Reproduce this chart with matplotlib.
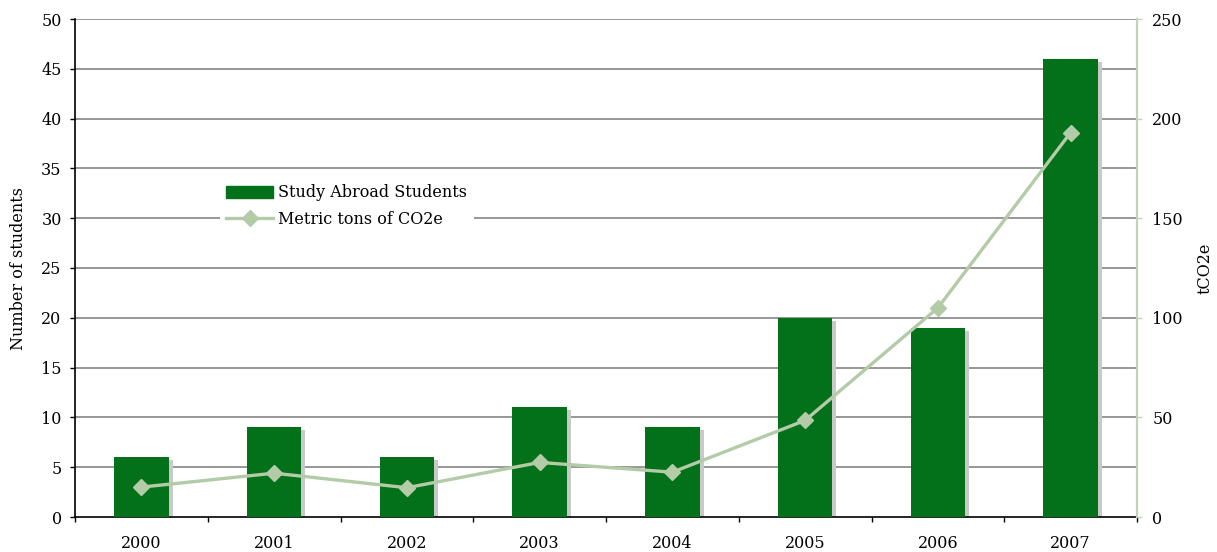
import matplotlib
matplotlib.use("Agg")
import matplotlib.pyplot as plt
import numpy as np

plt.rcParams['font.family'] = ['DejaVu Serif', 'Liberation Serif']

years = ["2000", "2001", "2002", "2003", "2004", "2005", "2006", "2007"]
students = [6, 9, 6, 11, 9, 20, 19, 46]
tco2e = [15, 22, 14.7, 27.4, 22.5, 48.5, 105, 193]

bar_color = "#03711a"
shadow_color = "#c9c9c9"
line_color = "#b3cba6"
right_spine_color = "#c3d3bb"
fs = 11.5

fig = plt.figure(figsize=(12.17, 5.52), dpi=100)
ax = fig.add_axes([75 / 1217, 1 - 517 / 552, (1137 - 75) / 1217, (517 - 19) / 552])
x = np.arange(len(years))

# bars with a soft grey drop shadow on the right
bw = 0.41
ax.bar(x + 0.03, np.array(students) - 0.3, width=bw, color=shadow_color, zorder=2, linewidth=0)
ax.bar(x, students, width=bw, color=bar_color, zorder=3, linewidth=0)

ax.set_xlim(-0.5, len(years) - 0.5)
ax.set_ylim(0, 50)
ax.set_yticks(np.arange(0, 51, 5))
for v in range(5, 51, 5):
    ax.axhline(v, color="#7a7a7a", lw=1.1, zorder=1)

# category boundary ticks, labels centred under each bar
ax.set_xticks(np.arange(-0.5, len(years), 1.0))
ax.set_xticklabels([])
ax.set_xticks(x, minor=True)
ax.set_xticklabels(years, minor=True, fontsize=fs)
ax.tick_params(axis="x", which="major", direction="out", length=3.6, width=1, color="black")
ax.tick_params(axis="x", which="minor", length=0, pad=13)
ax.tick_params(axis="y", direction="out", length=3.6, width=1, labelsize=fs, pad=6, colors="black")

for s in ["top", "right"]:
    ax.spines[s].set_visible(False)
ax.spines["left"].set_color("black")
ax.spines["bottom"].set_color("black")
ax.spines["left"].set_linewidth(1.2)
ax.spines["bottom"].set_linewidth(1.2)
ax.set_ylabel("Number of students", fontsize=fs, labelpad=10.5)

ax2 = ax.twinx()
ax2.set_ylim(0, 250)
ax2.set_yticks(np.arange(0, 251, 50))
line, = ax2.plot(x, tco2e, color=line_color, lw=2.4, marker="D", markersize=8.5,
                 markerfacecolor=line_color, markeredgecolor=line_color, zorder=4)
for s in ["top", "left", "bottom"]:
    ax2.spines[s].set_visible(False)
ax2.spines["right"].set_color(right_spine_color)
ax2.spines["right"].set_linewidth(1.6)
ax2.tick_params(axis="y", direction="out", length=3.6, width=1, color=right_spine_color,
                labelcolor="black", labelsize=fs, pad=7.5)
ax2.set_ylabel("tCO2e", fontsize=fs, labelpad=10)

bar_handle = plt.Rectangle((0, 0), 1, 1, color=bar_color)
leg = ax2.legend([bar_handle, line], ["Study Abroad Students", "Metric tons of CO2e"],
                 loc="upper left", bbox_to_anchor=(0.129, 0.697), frameon=True,
                 fontsize=fs, handlelength=2.9, handleheight=0.75, handletextpad=0.35,
                 labelspacing=0.6, borderpad=0.4, fancybox=False)
leg.get_frame().set_facecolor("white")
leg.get_frame().set_edgecolor("none")
leg.get_frame().set_alpha(1)

fig.savefig("out.png", dpi=100)
